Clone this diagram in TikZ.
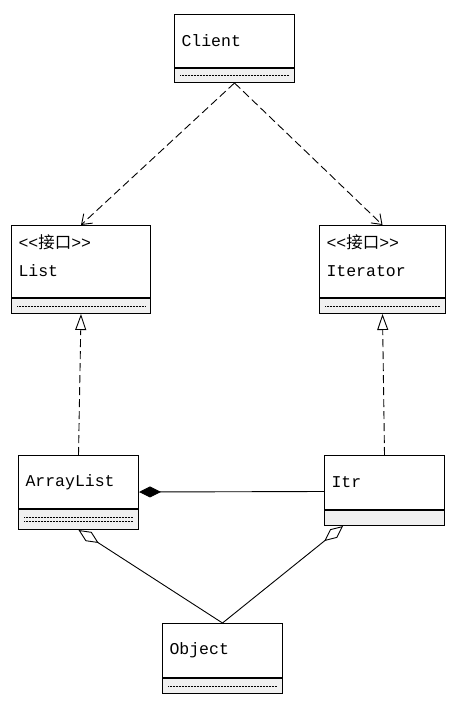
\documentclass[tikz,border=0pt]{standalone}
\usepackage{fontspec}
\setmainfont{Liberation Mono}
\newfontfamily\cjk{Noto Sans CJK SC}
\usetikzlibrary{arrows.meta}
\tikzset{
	cls/.style={draw, line width=1pt, anchor=north west, align=left, inner xsep=7pt, font=\fontsize{16.5}{20}\selectfont},
	body/.style={draw, line width=1pt, fill=gray!12, anchor=north, inner sep=0pt},
	sep/.style={line width=0.6pt, dash pattern=on 1pt off 0.5pt},
	dep/.style={line width=0.9pt, dash pattern=on 8pt off 4pt, -{Straight Barb[length=9pt,width=13pt]}},
	real/.style={line width=0.9pt, dash pattern=on 8pt off 4pt, -{Triangle[open,fill=white,length=16pt,width=11pt,line width=0.9pt]}},
	comp/.style={line width=0.9pt, {Diamond[length=22pt,width=11pt]}-},
	aggr/.style={line width=0.9pt, -{Diamond[open,fill=white,length=24pt,width=11pt,line width=0.9pt]}},
}
\newcommand{\iface}{{<}{<}{\cjk 接口}{>}{>}}
\begin{document}
\begin{tikzpicture}[x=1pt, y=-1pt]
	\useasboundingbox (0,0) rectangle (469,703);
	% classes
	\node[cls, text width=106pt, minimum height=53pt] (client) at (174,14) {Client};
	\node[body, minimum width=120pt, minimum height=14pt] (clientbody) at (client.south) {};
	\node[cls, text width=125pt, minimum height=72pt, text depth=40pt] (list) at (11,225) {\iface\\[8pt]List};
	\node[body, minimum width=139pt, minimum height=15pt] (listbody) at (list.south) {};
	\node[cls, text width=112pt, minimum height=72pt, text depth=40pt] (iterator) at (319,225) {\iface\\[8pt]Iterator};
	\node[body, minimum width=126pt, minimum height=15pt] (iteratorbody) at (iterator.south) {};
	\node[cls, text width=106pt, minimum height=53pt] (arraylist) at (18,455) {ArrayList};
	\node[body, minimum width=120pt, minimum height=20pt] (arraylistbody) at (arraylist.south) {};
	\node[cls, text width=106pt, minimum height=54pt] (itr) at (324,455) {Itr};
	\node[body, minimum width=120pt, minimum height=15pt] (itrbody) at (itr.south) {};
	\node[cls, text width=106pt, minimum height=54pt] (object) at (162,623) {Object};
	\node[body, minimum width=120pt, minimum height=15pt] (objectbody) at (object.south) {};
	% compartment lines
	\draw[sep] ([xshift=6]clientbody.west) -- ([xshift=-6]clientbody.east);
	\draw[sep] ([xshift=6]listbody.west) -- ([xshift=-6]listbody.east);
	\draw[sep] ([xshift=6]iteratorbody.west) -- ([xshift=-6]iteratorbody.east);
	\draw[sep] ([xshift=6,yshift=2]arraylistbody.west) -- ([xshift=-6,yshift=2]arraylistbody.east);
	\draw[sep] ([xshift=6,yshift=-2]arraylistbody.west) -- ([xshift=-6,yshift=-2]arraylistbody.east);
	\draw[sep] ([xshift=6]objectbody.west) -- ([xshift=-6]objectbody.east);
	% relations
	\draw[dep] (clientbody.south) -- (list.north);
	\draw[dep] (clientbody.south) -- (iterator.north);
	\draw[real] (arraylist.north) -- (listbody.south);
	\draw[real] (itr.north) -- (iteratorbody.south);
	\draw[comp] ([yshift=-10]arraylist.east) -- ([yshift=-9]itr.west);
	\coordinate (itrfoot) at ([xshift=19]itrbody.south west);
	\draw[aggr] (object.north) -- (arraylistbody.south);
	\draw[aggr] (object.north) -- (itrfoot);
\end{tikzpicture}
\end{document}
